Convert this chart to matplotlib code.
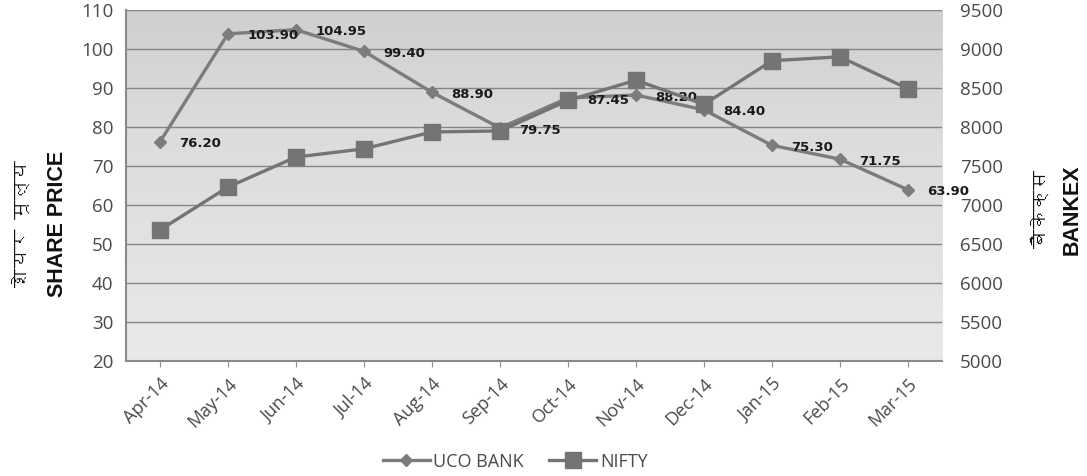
import numpy as np
import matplotlib
matplotlib.use("Agg")
import matplotlib.pyplot as plt
from matplotlib import font_manager
from matplotlib.ft2font import FT2Font

months = ["Apr-14", "May-14", "Jun-14", "Jul-14", "Aug-14", "Sep-14",
          "Oct-14", "Nov-14", "Dec-14", "Jan-15", "Feb-15", "Mar-15"]
uco_bank = [76.20, 103.90, 104.95, 99.40, 88.90, 79.75,
            87.45, 88.20, 84.40, 75.30, 71.75, 63.90]
nifty = [6680, 7230, 7615, 7720, 7936, 7950,
         8340, 8600, 8290, 8850, 8900, 8490]
left_ticks = list(range(20, 111, 10))
right_ticks = list(range(5000, 9501, 500))


def find_devanagari_font():
    # look for any installed font that has Devanagari glyphs
    for f in font_manager.fontManager.ttflist:
        try:
            cmap = FT2Font(f.fname).get_charmap()
        except Exception:
            continue
        if 0x0936 in cmap and 0x092F in cmap:
            return f.name
    return None


deva = find_devanagari_font()
hindi_family = [deva, "DejaVu Sans"] if deva else ["DejaVu Sans"]

tick_font = "Open Sans"
grey_text = "#4a4a4a"

fig = plt.figure(figsize=(10.87, 4.76), dpi=100)
ax = fig.add_axes([0.1159, 0.2416, 0.7507, 0.7374])
ax2 = ax.twinx()

# plot area gradient fill (darker top edge, lighter lower part)
grad = np.linspace(0, 1, 256).reshape(-1, 1)
ax.imshow(grad, extent=[0, 1, 0, 1], transform=ax.transAxes, aspect="auto",
          cmap=matplotlib.colors.LinearSegmentedColormap.from_list(
              "bg", ["#cfcfcf", "#dcdcdc", "#e2e2e2", "#e9e9e9"]),
          zorder=0)

x = np.arange(len(months))
ax.set_xlim(-0.5, len(months) - 0.5)
ax.set_ylim(20, 110)
ax2.set_ylim(5000, 9500)

ax.set_yticks(left_ticks)
ax2.set_yticks(right_ticks)
ax.grid(axis="y", color="#858585", linewidth=1.0, zorder=1)
ax.set_axisbelow(False)

line_col = "#7c7c7c"
ax.plot(x, uco_bank, color=line_col, linewidth=2.4, marker="D",
        markersize=6, zorder=3, label="UCO BANK")
ax2.plot(x, nifty, color="#747474", linewidth=2.4, marker="s",
         markersize=11, zorder=3, label="NIFTY")

for xi, v in zip(x, uco_bank):
    ax.annotate(f"{v:.2f}", (xi, v), xytext=(14, -1.5), textcoords="offset points",
                ha="left", va="center", fontsize=9.5, fontweight="bold",
                color="#1a1a1a", family="DejaVu Sans", zorder=5)

ax.set_xticks(x)
ax.set_xticklabels(months, rotation=45, ha="right", rotation_mode="anchor",
                   fontsize=13, color=grey_text, family=tick_font)
for lab in ax.get_yticklabels() + ax2.get_yticklabels():
    lab.set_fontsize(13.5)
    lab.set_color(grey_text)
    lab.set_family(tick_font)

ax.tick_params(axis="y", length=0, pad=9)
ax2.tick_params(axis="y", length=0, pad=13)
ax.tick_params(axis="x", length=4, color="#909090", pad=6)

for a in (ax, ax2):
    for s in a.spines.values():
        s.set_visible(False)
ax.spines["left"].set_visible(True)
ax.spines["left"].set_color("#8a8a8a")
ax.spines["left"].set_linewidth(1.5)
ax.spines["bottom"].set_visible(True)
ax.spines["bottom"].set_color("#8a8a8a")
ax.spines["bottom"].set_linewidth(1.5)

# axis titles
fig.text(0.019, 0.53, "शेयर मूल्य", rotation=90, ha="center", va="center",
         fontsize=14, family=hindi_family, color="#111111")
fig.text(0.053, 0.53, "SHARE PRICE", rotation=90, ha="center", va="center",
         fontsize=15.5, fontweight="bold", family="Liberation Sans", color="#111111")
fig.text(0.957, 0.56, "बैंकेक्स", rotation=90, ha="center", va="center",
         fontsize=14, family=hindi_family, color="#111111")
fig.text(0.986, 0.56, "BANKEX", rotation=90, ha="center", va="center",
         fontsize=15.5, fontweight="bold", family="Liberation Sans", color="#111111")

h1, l1 = ax.get_legend_handles_labels()
h2, l2 = ax2.get_legend_handles_labels()
leg = fig.legend(h1 + h2, l1 + l2, loc="center", ncol=2,
                 bbox_to_anchor=(0.474, 0.03), frameon=False,
                 prop={"family": tick_font, "size": 13},
                 handlelength=2.6, columnspacing=1.4, handletextpad=0.2)
for t in leg.get_texts():
    t.set_color(grey_text)

fig.savefig("out.png", dpi=100)
